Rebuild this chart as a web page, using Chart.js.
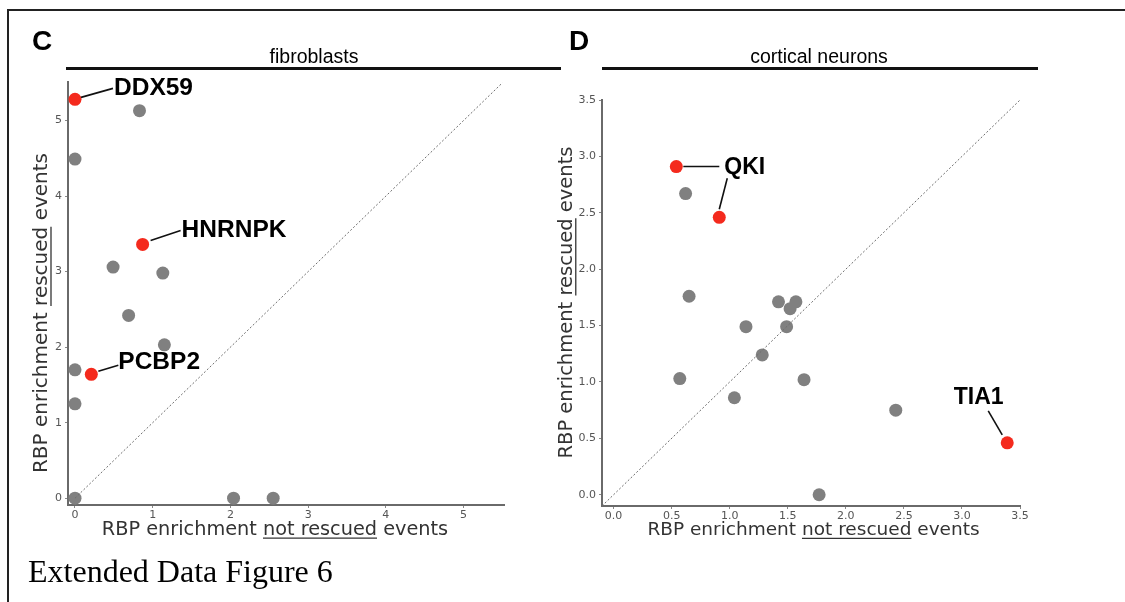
<!DOCTYPE html>
<html>
<head>
<meta charset="utf-8">
<script src="https://cdn.jsdelivr.net/npm/chart.js@4.4.0/dist/chart.umd.min.js"></script>
<style>
  html, body { margin: 0; padding: 0; background: #fff; }
  body { width: 1125px; height: 602px; position: relative; overflow: hidden; }
  #frame { position: absolute; left: 7px; top: 9px; width: 1130px; height: 600px;
           border-top: 2px solid #222; border-left: 2px solid #222; }
  .panel { position: absolute; top: 0; }
  #wrapC { left: 0; width: 580px; height: 560px; }
  #wrapD { left: 540px; width: 585px; height: 560px; }
  #caption { position: absolute; left: 28px; top: 555px; line-height: 32px;
             font-family: "Liberation Serif", "Times New Roman", serif; font-size: 32px; color: #000; }
</style>
</head>
<body>
<div id="frame"></div>
<div class="panel" id="wrapC"><canvas id="chartC" width="580" height="560"></canvas></div>
<div class="panel" id="wrapD"><canvas id="chartD" width="585" height="560"></canvas></div>
<div id="caption">Extended Data Figure 6</div>

<script>
// --- dados ---
// C: fibroblasts
const fibroX = [0.83, 0, 0.49, 1.13, 0.69, 1.15, 0, 0, 0, 2.04, 2.55];
const fibroY = [5.13, 4.49, 3.06, 2.98, 2.42, 2.03, 1.70, 1.25, 0, 0, 0];
const fibroHitNames = ['DDX59', 'HNRNPK', 'PCBP2'];
const fibroHitX = [0, 0.87, 0.21];
const fibroHitY = [5.28, 3.36, 1.64];
const fibroTicks = [0, 1, 2, 3, 4, 5];
const fibroDiag = [0, 5.5];

// D: cortical neurons
const neuronX = [0.62, 0.65, 1.42, 1.57, 1.52, 1.14, 1.49, 1.28, 0.57, 1.64, 1.04, 2.43, 1.77];
const neuronY = [2.67, 1.76, 1.71, 1.71, 1.65, 1.49, 1.49, 1.24, 1.03, 1.02, 0.86, 0.75, 0.0];
const neuronHitNames = ['QKI', 'QKI', 'TIA1'];
const neuronHitX = [0.54, 0.91, 3.39];
const neuronHitY = [2.91, 2.46, 0.46];
const neuronTicks = [0, 0.5, 1, 1.5, 2, 2.5, 3, 3.5];
const neuronDiag = [-0.1, 3.5];

const grey = '#808080';
const red = '#f42a1d';
const tickFont = { family: 'DejaVu Sans', size: 11 };

function pts(xs, ys) { return xs.map((x, i) => ({ x: x, y: ys[i] })); }

// texto com partes sublinhadas (titulos dos eixos)
function drawParts(ctx, parts, cx, cy, size, rotate) {
  ctx.save();
  ctx.translate(cx, cy);
  if (rotate) ctx.rotate(-Math.PI / 2);
  ctx.font = size + 'px "DejaVu Sans"';
  ctx.fillStyle = '#333'; ctx.strokeStyle = '#333';
  ctx.textBaseline = 'middle'; ctx.textAlign = 'left';
  const total = parts.reduce((s, p) => s + ctx.measureText(p[0]).width, 0);
  let x = -total / 2;
  parts.forEach(p => {
    const w = ctx.measureText(p[0]).width;
    ctx.fillText(p[0], x, 0);
    if (p[1]) {
      ctx.lineWidth = 1.3;
      ctx.beginPath(); ctx.moveTo(x, size * 0.45); ctx.lineTo(x + w, size * 0.45); ctx.stroke();
    }
    x += w;
  });
  ctx.restore();
}

// plugin: letra do painel, titulo, linha, titulos dos eixos e rotulos
const panelDeco = {
  id: 'panelDeco',
  afterDraw(chart, args, o) {
    const ctx = chart.ctx;
    ctx.save();
    ctx.fillStyle = '#000';
    ctx.textBaseline = 'alphabetic';
    ctx.font = 'bold 28px "Liberation Sans", Arial';
    ctx.textAlign = 'left';
    ctx.fillText(o.letter, o.letterX, 50);
    ctx.font = '19.5px "Liberation Sans", Arial';
    ctx.textAlign = 'center';
    ctx.fillText(o.title, o.titleX, 63);
    ctx.strokeStyle = '#111'; ctx.lineWidth = 3;
    ctx.beginPath(); ctx.moveTo(o.line[0], 68.5); ctx.lineTo(o.line[1], 68.5); ctx.stroke();
    ctx.restore();

    drawParts(ctx, [['RBP enrichment ', false], ['not rescued', true], [' events', false]], o.xTitle[0], o.xTitle[1], o.xTitle[2], false);
    drawParts(ctx, [['RBP enrichment ', false], ['rescued', true], [' events', false]], o.yTitle[0], o.yTitle[1], o.yTitle[2], true);

    // rotulos dos pontos vermelhos
    const xs = chart.scales.x, ys = chart.scales.y;
    ctx.save();
    ctx.strokeStyle = '#111'; ctx.lineWidth = 1.6; ctx.fillStyle = '#000';
    ctx.font = 'bold ' + o.labelSize + 'px "Liberation Sans", Arial';
    ctx.textBaseline = 'middle';
    o.labels.forEach(l => {
      const px = xs.getPixelForValue(o.hitX[l.i]);
      const py = ys.getPixelForValue(o.hitY[l.i]);
      if (l.text) {
        ctx.textAlign = l.align || 'left';
        ctx.fillText(l.text, px + l.dx, py + l.dy);
      }
      l.lines.forEach(s => {
        ctx.beginPath(); ctx.moveTo(px + s[0], py + s[1]); ctx.lineTo(px + s[2], py + s[3]); ctx.stroke();
      });
    });
    ctx.restore();
  }
};

function axis(min, max, ticks, dec, size, pad) {
  return {
    type: 'linear', min: min, max: max,
    afterBuildTicks: s => { s.ticks = ticks.map(v => ({ value: v })); },
    afterFit: s => { if (s.isHorizontal()) s.height = size; else s.width = size; },
    ticks: { font: tickFont, color: '#555', padding: pad, maxRotation: 0,
             callback: v => Number(v).toFixed(dec) },
    grid: { drawOnChartArea: false, tickLength: 3, color: '#888' },
    border: { color: '#6a6a6a', width: 2 }
  };
}

function makeChart(id, d) {
  return new Chart(document.getElementById(id), {
    type: 'scatter',
    data: {
      datasets: [
        { type: 'line', data: [{ x: d.diag[0], y: d.diag[0] }, { x: d.diag[1], y: d.diag[1] }],
          borderColor: '#6e6e6e', borderWidth: 1, borderDash: [2, 2], pointRadius: 0, order: 0, clip: false },
        { data: pts(d.hitX, d.hitY), backgroundColor: red, borderWidth: 0, pointRadius: 6.5, order: 1, clip: false },
        { data: pts(d.x, d.y), backgroundColor: grey, borderWidth: 0, pointRadius: 6.5, order: 2, clip: false }
      ]
    },
    options: {
      responsive: false, animation: false, devicePixelRatio: 1,
      layout: { padding: d.padding },
      scales: {
        x: axis(d.xRange[0], d.xRange[1], d.ticks, d.dec, 20, 1),
        y: axis(d.yRange[0], d.yRange[1], d.ticks, d.dec, d.yWidth, 3)
      },
      plugins: {
        legend: { display: false }, tooltip: { enabled: false },
        panelDeco: d.deco
      }
    },
    plugins: [panelDeco]
  });
}

makeChart('chartC', {
  x: fibroX, y: fibroY, hitX: fibroHitX, hitY: fibroHitY, diag: fibroDiag,
  ticks: fibroTicks, dec: 0, xRange: [-0.09, 5.52], yRange: [-0.09, 5.51], yWidth: 40,
  padding: { left: 28, top: 82, right: 76, bottom: 35 },
  deco: {
    letter: 'C', letterX: 32, title: 'fibroblasts', titleX: 314, line: [66, 561],
    xTitle: [275, 529.5, 19.3], yTitle: [42, 313, 20], labelSize: 24.5,
    hitX: fibroHitX, hitY: fibroHitY,
    labels: [
      { i: 0, text: fibroHitNames[0], dx: 39, dy: -11, lines: [[6, -2, 38, -11]] },
      { i: 1, text: fibroHitNames[1], dx: 39, dy: -14, lines: [[8, -4, 38, -14]] },
      { i: 2, text: fibroHitNames[2], dx: 27, dy: -12, lines: [[7, -3, 27, -9]] }
    ]
  }
});

makeChart('chartD', {
  x: neuronX, y: neuronY, hitX: neuronHitX, hitY: neuronHitY, diag: neuronDiag,
  ticks: neuronTicks, dec: 1, xRange: [-0.1, 3.5], yRange: [-0.1, 3.5], yWidth: 35,
  padding: { left: 27, top: 100, right: 105, bottom: 34 },
  deco: {
    letter: 'D', letterX: 29, title: 'cortical neurons', titleX: 279, line: [62, 498],
    xTitle: [273.5, 530, 18.5], yTitle: [27, 302.5, 19.5], labelSize: 23,
    hitX: neuronHitX, hitY: neuronHitY,
    labels: [
      { i: 0, text: neuronHitNames[0], dx: 48, dy: 1, lines: [[7, 0, 43, 0]] },
      { i: 1, text: '', dx: 0, dy: 0, lines: [[0, -8, 8, -39]] },
      { i: 2, text: neuronHitNames[2], dx: -28.5, dy: -45, align: 'center', lines: [[-19, -32, -5, -8]] }
    ]
  }
});
</script>
</body>
</html>
